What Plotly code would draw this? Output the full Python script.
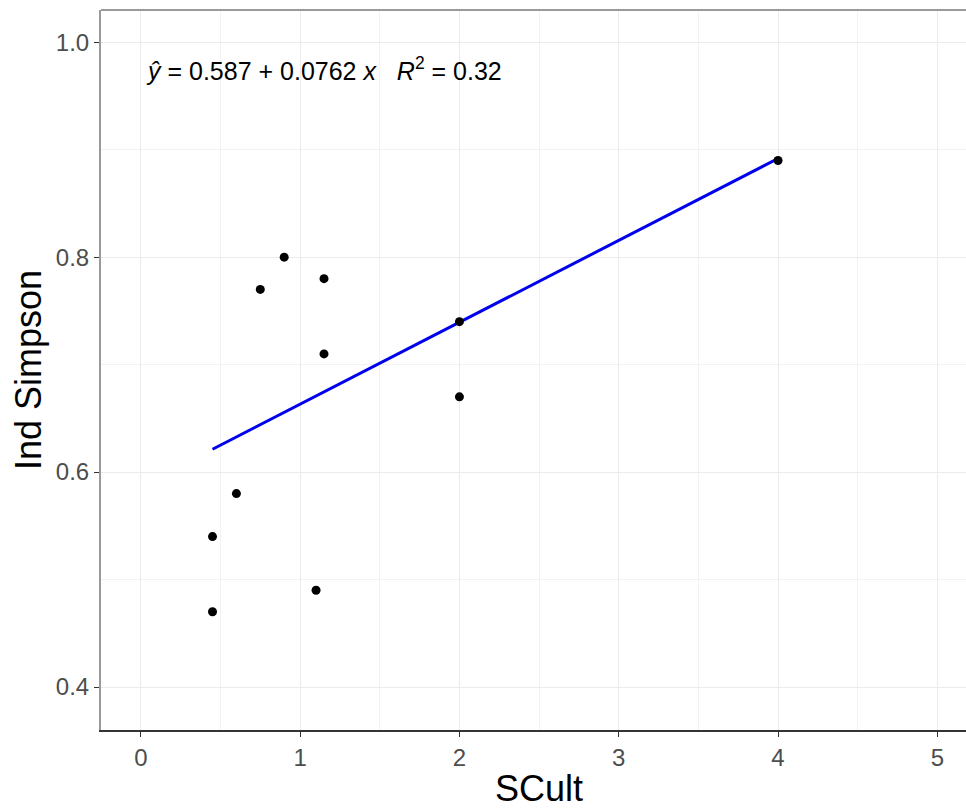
import plotly.graph_objects as go

# Data
scult = [0.45, 0.45, 0.60, 0.75, 0.90, 1.15, 1.15, 1.10, 2.00, 2.00, 4.00]
ind_simpson = [0.47, 0.54, 0.58, 0.77, 0.80, 0.78, 0.71, 0.49, 0.74, 0.67, 0.89]

# Fitted regression (from the equation label)
intercept = 0.587
slope = 0.0762
r_squared = 0.32

x_ticks = [0, 1, 2, 3, 4, 5]
y_ticks = [0.4, 0.6, 0.8, 1.0]
y_tick_text = ["0.4", "0.6", "0.8", "1.0"]

x_fit = [min(scult), max(scult)]
y_fit = [intercept + slope * v for v in x_fit]

font_family = "Liberation Sans, Arial, sans-serif"

fig = go.Figure()
fig.add_trace(go.Scatter(x=x_fit, y=y_fit, mode="lines",
                         line=dict(color="#0000EE", width=3), showlegend=False))
fig.add_trace(go.Scatter(x=scult, y=ind_simpson, mode="markers",
                         marker=dict(color="black", size=9), showlegend=False))

fig.update_layout(
    width=966, height=809,
    margin=dict(l=101, r=0, t=10, b=79),
    paper_bgcolor="white", plot_bgcolor="white",
    font=dict(family=font_family),
    xaxis=dict(range=[-0.25, 5.18], tickvals=x_ticks, ticktext=[str(v) for v in x_ticks],
               showgrid=True, gridcolor="#EBEBEB", gridwidth=1.4,
               minor=dict(dtick=0.5, tick0=0, showgrid=True, gridcolor="#F2F2F2", gridwidth=0.8),
               showline=True, linecolor="#333333", linewidth=2,
               ticks="outside", ticklen=5, tickcolor="#333333", tickwidth=1,
               tickfont=dict(size=24, color="#4D4D4D"), zeroline=False),
    yaxis=dict(range=[0.36, 1.03], tickvals=y_ticks, ticktext=y_tick_text,
               showgrid=True, gridcolor="#EBEBEB", gridwidth=1.4,
               minor=dict(dtick=0.1, tick0=0.3, showgrid=True, gridcolor="#F2F2F2", gridwidth=0.8),
               showline=True, linecolor="#9A9A9A", linewidth=2,
               ticks="outside", ticklen=5, tickcolor="#333333", tickwidth=1,
               tickfont=dict(size=24, color="#4D4D4D"), zeroline=False),
    shapes=[dict(type="line", xref="x domain", yref="y domain", x0=0, x1=1, y0=1, y1=1,
                 line=dict(color="#9A9A9A", width=2))],
    annotations=[
        dict(text=f"<i>ŷ</i> = {intercept} + {slope} <i>x</i>   <i>R</i><sup>2</sup> = {r_squared}",
             x=0.022, y=0.975, xref="x", yref="y", xanchor="left", yanchor="middle",
             showarrow=False, font=dict(size=25, color="black")),
        dict(text="SCult", x=0.5064, y=-0.0819, xref="paper", yref="paper",
             xanchor="center", yanchor="middle", showarrow=False,
             font=dict(size=36, color="black")),
        dict(text="Ind Simpson", x=-0.0844, y=0.5, xref="paper", yref="paper",
             xanchor="center", yanchor="middle", textangle=-90, showarrow=False,
             font=dict(size=36, color="black")),
    ],
)

fig.write_html("out.html")
